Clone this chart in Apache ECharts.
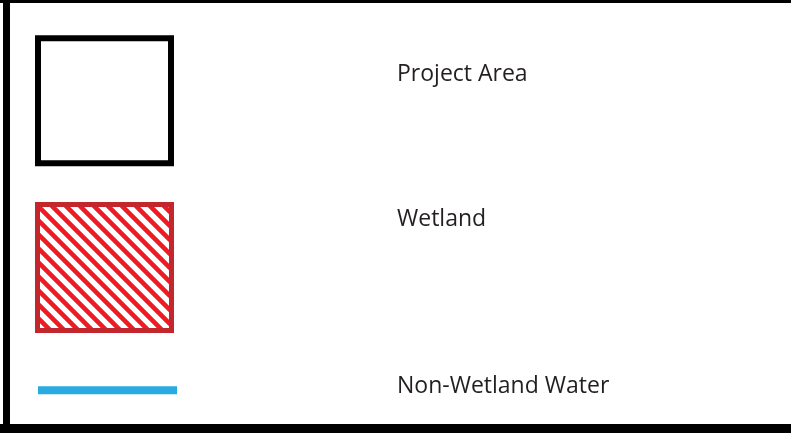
<!DOCTYPE html>
<html>
<head>
<meta charset="utf-8">
<script src="https://cdn.jsdelivr.net/npm/echarts@6/dist/echarts.min.js"></script>
<style>
  html, body { margin: 0; padding: 0; background: #fff; }
  #main { width: 791px; height: 433px; }
</style>
</head>
<body>
<div id="main"></div>
<script>
// legend rows
const legendLabels = ['Project Area', 'Wetland', 'Non-Wetland Water'];
const swatchKinds = ['outline', 'hatch', 'line'];

// layout per row (pixel offsets from the band centre)
const swatchLayout = [
  { x: 38, dy: -34, w: 133, h: 125 },
  { x: 37.5, dy: -12, w: 134, h: 126 },
  { x: 38, dy: 25.5, w: 139, h: 8 }
];
const textDy = [2, 2.5, 25.5];
const textX = 397;

// red diagonal hatch tile
function hatchTile() {
  const c = document.createElement('canvas');
  c.width = 14;
  c.height = 14;
  const ctx = c.getContext('2d');
  ctx.fillStyle = '#ffffff';
  ctx.fillRect(0, 0, 14, 14);
  ctx.strokeStyle = '#ed1c24';
  ctx.lineWidth = 4.6;
  ctx.beginPath();
  ctx.moveTo(-2, -2); ctx.lineTo(16, 16);
  ctx.moveTo(-2, 12); ctx.lineTo(2, 16);
  ctx.moveTo(12, -2); ctx.lineTo(16, 2);
  ctx.stroke();
  return c;
}
const hatch = hatchTile();

const chart = echarts.init(document.getElementById('main'));

function renderRow(params, api) {
  const i = params.dataIndex;
  const centre = api.coord([0, api.value(0)]);
  const cy = centre[1];
  const lay = swatchLayout[i];
  let swatch;
  if (swatchKinds[i] === 'outline') {
    swatch = {
      type: 'rect',
      shape: { x: lay.x, y: cy + lay.dy, width: lay.w, height: lay.h },
      style: { fill: 'none', stroke: '#000000', lineWidth: 6 }
    };
  } else if (swatchKinds[i] === 'hatch') {
    swatch = {
      type: 'rect',
      shape: { x: lay.x, y: cy + lay.dy, width: lay.w, height: lay.h },
      style: { fill: { image: hatch, repeat: 'repeat' }, stroke: '#c1272d', lineWidth: 5 }
    };
  } else {
    swatch = {
      type: 'rect',
      shape: { x: lay.x, y: cy + lay.dy, width: lay.w, height: lay.h },
      style: { fill: '#29abe2' }
    };
  }
  return {
    type: 'group',
    children: [
      swatch,
      {
        type: 'text',
        style: {
          text: legendLabels[i],
          x: textX,
          y: cy + textDy[i],
          fill: '#231f20',
          font: '23px "Open Sans"',
          verticalAlign: 'middle',
          align: 'left'
        }
      }
    ]
  };
}

chart.setOption({
  backgroundColor: '#ffffff',
  animation: false,
  grid: { left: 0, right: 0, top: 0, bottom: 0 },
  xAxis: { type: 'value', min: 0, max: 791, show: false },
  yAxis: { type: 'category', data: legendLabels, inverse: true, show: false },
  graphic: [
    // frame
    { type: 'rect', shape: { x: 0, y: 0, width: 791, height: 3 }, style: { fill: '#000' } },
    { type: 'rect', shape: { x: 3, y: 0, width: 7, height: 433 }, style: { fill: '#000' } },
    { type: 'rect', shape: { x: 0, y: 424, width: 791, height: 9 }, style: { fill: '#000' } }
  ],
  series: [{
    type: 'custom',
    renderItem: renderRow,
    data: legendLabels.map((l, i) => [i]),
    encode: { y: 0 },
    silent: true
  }]
});
</script>
</body>
</html>
